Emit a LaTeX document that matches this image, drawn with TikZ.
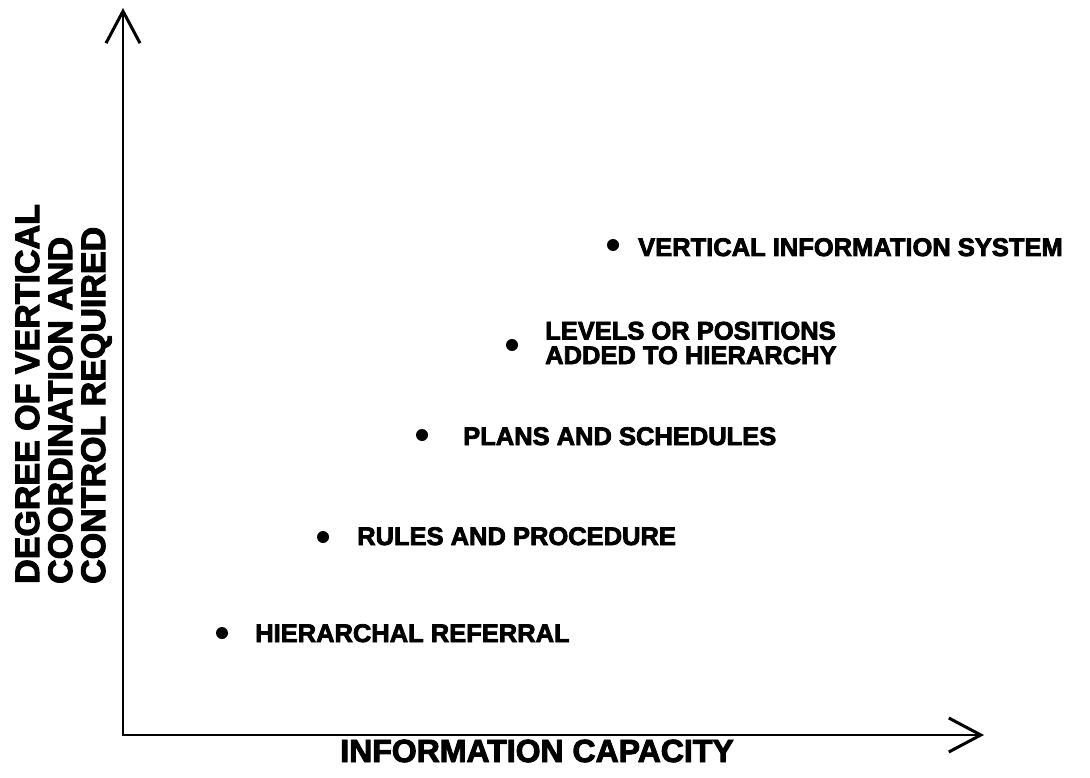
\documentclass[tikz,border=0pt]{standalone}
\usepackage{fontspec}
\setmainfont{Liberation Sans}
% heavy sans face: bold outlines thickened a little
\newfontfamily\heavy{Liberation Sans Bold}[FakeBold=3]
\usetikzlibrary{arrows.meta}
\begin{document}
\begin{tikzpicture}[x=1pt,y=-1pt,
  barb/.tip={Straight Barb[length=32pt,width=34pt,line width=3pt]},
  axis/.style={line width=2.2pt, line join=miter, barb-barb},
  dot/.style={circle, fill=black, inner sep=0pt, minimum size=12pt},
  item/.style={font=\heavy\fontsize{25.5}{24.5}\selectfont, inner sep=0pt, align=left},
  ylab/.style={font=\heavy\fontsize{34}{33}\selectfont, inner sep=0pt, rotate=90, anchor=base west},
  xlab/.style={font=\heavy\fontsize{32}{34}\selectfont, inner sep=0pt, anchor=base}]
\useasboundingbox (0,0) rectangle (1090,778);

% axes
\coordinate (O) at (123,735);
\coordinate (ytip) at (123,8);
\coordinate (xtip) at (984,735);
\draw[axis] (ytip) -- (O) -- (xtip);

% axis titles
\node[ylab] (yl1) at (39,584) {DEGREE OF VERTICAL};
\node[ylab] (yl2) at (72,584) {COORDINATION AND};
\node[ylab] (yl3) at (105,584) {CONTROL REQUIRED};
\node[xlab] (xl) at (537,762) {INFORMATION CAPACITY};

% coordination mechanisms
\node[dot] (d1) at (222,633) {};
\node[item, anchor=base west] (t1) at (255,642) {HIERARCHAL REFERRAL};
\node[dot] (d2) at (323,537) {};
\node[item, anchor=base west] (t2) at (357,545) {RULES AND PROCEDURE};
\node[dot] (d3) at (422,435) {};
\node[item, anchor=base west] (t3) at (463,445) {PLANS AND SCHEDULES};
\node[dot] (d4) at (512,345) {};
\node[item, anchor=west] (t4) at (545,343) {LEVELS OR POSITIONS\\ADDED TO HIERARCHY};
\node[dot] (d5) at (613,245) {};
\node[item, anchor=base west] (t5) at (638,256) {VERTICAL INFORMATION SYSTEM};
\end{tikzpicture}
\end{document}
